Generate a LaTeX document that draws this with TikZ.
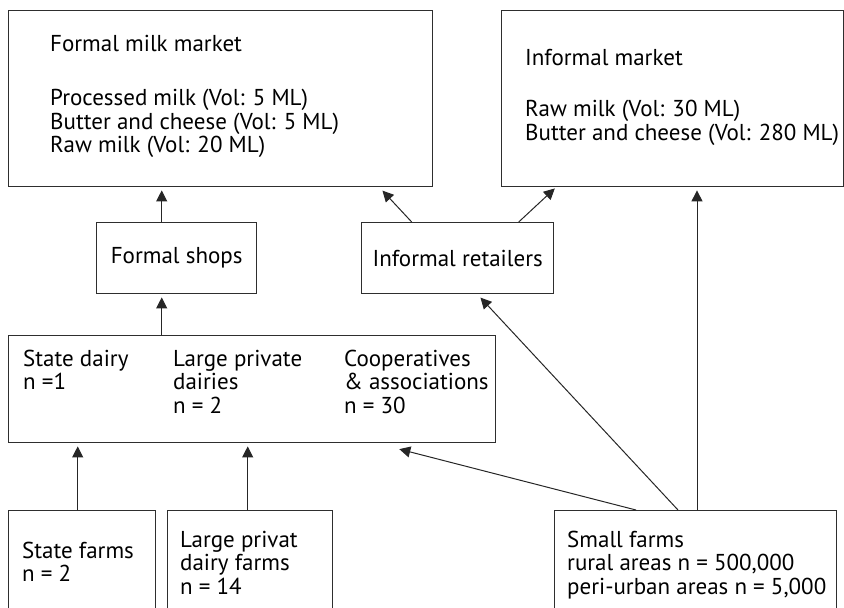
\documentclass[tikz,border=0pt]{standalone}
\usepackage{fontspec}
\setmainfont{PT Sans}
\usetikzlibrary{arrows.meta}
% stacked left-aligned lines whose baseline is that of the first line
\newcommand\txtlines[1]{\begin{tabular}[t]{@{}l@{}}#1\end{tabular}}
\begin{document}
\begin{tikzpicture}[x=1pt,y=-1pt,
  txtfont/.style={font=\fontsize{23}{23.5}\selectfont},
  box/.style={draw=black!82, line width=1.4pt, inner sep=0pt, anchor=north west, txtfont},
  lbl/.style={anchor=base west, inner sep=0pt, txtfont},
  flow/.style={draw=black!85, line width=1pt, shorten >=3pt,
    -{Triangle[length=11pt,width=11pt]}}]
\useasboundingbox (0,0) rectangle (844,608);

% markets
\node[box, minimum width=424pt, minimum height=176pt] (fm) at (8,10) {};
\node[box, minimum width=342pt, minimum height=176pt] (im) at (501,10) {};
\node[lbl] (fmtext) at (50,51) {\txtlines{Formal milk market\\[31pt]
  Processed milk (Vol: 5 ML)\\ Butter and cheese (Vol: 5 ML)\\ Raw milk (Vol: 20 ML)}};
\node[lbl] (imtext) at (525,65) {\txtlines{Informal market\\[28pt]
  Raw milk (Vol: 30 ML)\\ Butter and cheese (Vol: 280 ML)}};

% retail
\node[box, minimum width=160pt, minimum height=71pt] (fs) at (96,222) {Formal shops};
\node[box, minimum width=192pt, minimum height=71pt] (ir) at (361,222) {Informal retailers};

% processors
\node[box, minimum width=487pt, minimum height=107pt] (dairies) at (8,335) {};
\node[lbl] (statedairy) at (23,366) {\txtlines{State dairy\\ n =1}};
\node[lbl] (privdairy) at (173,366) {\txtlines{Large private\\ dairies\\ n = 2}};
\node[lbl] (coops) at (344,366) {\txtlines{Cooperatives\\ \& associations\\ n = 30}};

% producers
\node[box, minimum width=147pt, minimum height=115pt] (sf) at (8,510) {};
\node[box, minimum width=165pt, minimum height=115pt] (lp) at (167,510) {};
\node[box, minimum width=282pt, minimum height=115pt] (smf) at (554,510) {};
\node[lbl] (sftext) at (22,558) {\txtlines{State farms\\ n = 2}};
\node[lbl] (lptext) at (180,547) {\txtlines{Large privat\\ dairy farms\\ n = 14}};
\node[lbl] (smftext) at (567,547) {\txtlines{Small farms\\ rural areas n = 500,000\\ peri-urban areas n = 5,000}};

% flows
\draw[flow] ([xshift=-15pt]fs.north) -- ([xshift=-15pt]fs.north |- fm.south);
\draw[flow] ([xshift=-46pt]ir.north) -- ([xshift=-53pt,yshift=-1pt]fm.south east);
\draw[flow] ([xshift=61pt]ir.north) -- ([xshift=56pt,yshift=1pt]im.south west);
\draw[flow] ([xshift=-15pt]fs.south |- dairies.north) -- ([xshift=-15pt]fs.south);
\draw[flow] ([xshift=-4.5pt]sf.north) -- ([xshift=-4.5pt]sf.north |- dairies.south);
\draw[flow] ([xshift=-2.5pt]lp.north) -- ([xshift=-2.5pt]lp.north |- dairies.south);
\draw[flow] ([xshift=82pt]smf.north west) -- ([xshift=-100pt,yshift=-5pt]dairies.south east);
\draw[flow] ([xshift=124pt]smf.north west) -- ([xshift=-76pt,yshift=-1pt]ir.south east);
\draw[flow] ([xshift=143pt]smf.north west) -- ([xshift=196pt]im.south west);
\end{tikzpicture}
\end{document}
